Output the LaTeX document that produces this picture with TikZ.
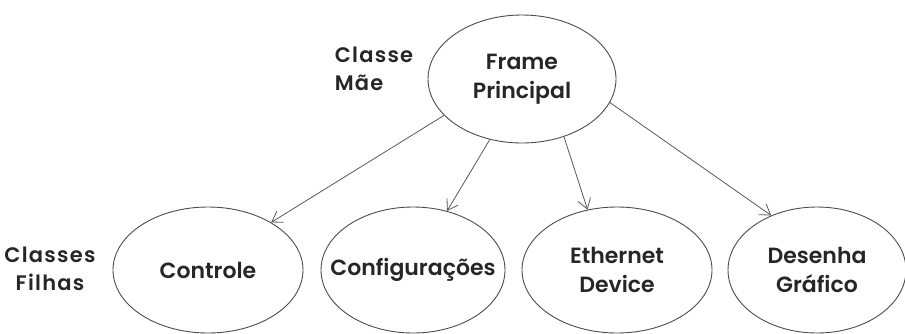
\documentclass[tikz,border=0pt]{standalone}
\usepackage{fontspec}
\setmainfont{Poppins SemiBold}
\usetikzlibrary{shapes.geometric,arrows.meta}
\begin{document}
\begin{tikzpicture}[x=1pt, y=-1pt,
    every node/.style={font=\fontsize{22}{29}\selectfont, text=black!85},
    classe/.style={ellipse, draw=black!70, line width=0.9pt, inner sep=-25pt,
        minimum width=190pt, minimum height=126pt, align=center},
    heranca/.style={draw=black!65, line width=0.8pt,
        -{Straight Barb[length=10pt,width=13pt]}},
    rotulo/.style={font=\fontsize{21}{28}\selectfont\addfontfeatures{LetterSpace=6}}]
    \useasboundingbox (0,0) rectangle (905,333);
    \clip (0,0) rectangle (905,333);
    % Parent class
    \node[classe, minimum width=188pt, minimum height=128pt] (frame) at (522,79) {Frame\\Principal};
    \node[rotulo, align=left] (mae) at (374,69) {Classe\\Mãe};
    % Child classes
    \node[classe] (controle) at (208,270) {Controle};
    \node[classe, minimum width=184pt] (config) at (413,270) {Configurações};
    \node[classe] (ethernet) at (617,270) {Ethernet\\Device};
    \node[classe, minimum width=178pt] (desenha) at (817,270) {Desenha\\Gráfico};
    \node[rotulo, align=center] (filhas) at (50,269) {Classes\\Filhas};
    % Arrows
    \draw[heranca] (frame.205) -- (controle.37);
    \draw[heranca] (frame.242) -- (config.60);
    \draw[heranca] (frame.306) -- (ethernet.116);
    \draw[heranca] (frame.345) -- (desenha.130);
\end{tikzpicture}
\end{document}
